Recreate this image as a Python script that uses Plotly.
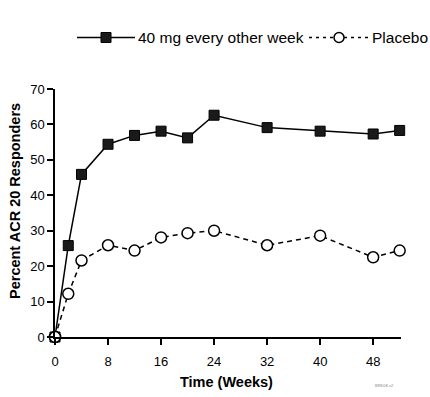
import plotly.graph_objects as go

weeks = [0, 2, 4, 8, 12, 16, 20, 24, 32, 40, 48, 52]
adalimumab = [0, 25.8, 45.9, 54.4, 56.9, 58.1, 56.2, 62.6, 59.1, 58.1, 57.3, 58.3]
placebo = [0, 12.2, 21.6, 25.9, 24.4, 28.1, 29.3, 30.0, 25.9, 28.6, 22.5, 24.4]
x_ticks = [0, 8, 16, 24, 32, 40, 48]
y_ticks = [0, 10, 20, 30, 40, 50, 60, 70]
series_names = ["40 mg every other week", "Placebo"]

W, H = 430, 397
L, R, T, B = 55, 29, 89, 60
PW, PH = W - L - R, H - T - B

def px(x):
    return (x - L) / PW

def py(y):
    return (H - B - y) / PH

FONT = "Liberation Sans, Arial, sans-serif"

fig = go.Figure()
fig.add_trace(go.Scatter(
    x=weeks, y=placebo, mode="lines+markers", name=series_names[1],
    line=dict(color="black", width=1.5, dash="5px,4px"),
    marker=dict(symbol="circle", size=11, color="white",
                line=dict(color="black", width=1.5)),
    cliponaxis=False, showlegend=False,
))
fig.add_trace(go.Scatter(
    x=weeks, y=adalimumab, mode="lines+markers", name=series_names[0],
    line=dict(color="black", width=1.5),
    marker=dict(symbol="square", size=10, color="#1a1a1a",
                line=dict(color="black", width=1)),
    cliponaxis=False, showlegend=False,
))
# keep the placebo circle at the origin on top
fig.add_trace(go.Scatter(
    x=weeks[:1], y=placebo[:1], mode="markers",
    marker=dict(symbol="circle", size=11, color="white",
                line=dict(color="black", width=1.5)),
    cliponaxis=False, showlegend=False, hoverinfo="skip",
))

shapes = []
ly = 37.5
# legend item 1
shapes.append(dict(type="line", xref="paper", yref="paper",
                   x0=px(77), x1=px(135), y0=py(ly), y1=py(ly),
                   line=dict(color="black", width=1.5)))
shapes.append(dict(type="rect", xref="paper", yref="paper",
                   x0=px(101), x1=px(111), y0=py(ly - 5), y1=py(ly + 5),
                   fillcolor="#1a1a1a", line=dict(color="black", width=1)))
# legend item 2
shapes.append(dict(type="line", xref="paper", yref="paper",
                   x0=px(309), x1=px(368), y0=py(ly), y1=py(ly),
                   line=dict(color="black", width=1.5, dash="3px,4px")))
shapes.append(dict(type="circle", xref="paper", yref="paper",
                   x0=px(334), x1=px(344), y0=py(ly - 5), y1=py(ly + 5),
                   fillcolor="white", line=dict(color="black", width=1.5)))

annotations = [
    dict(text=series_names[0], xref="paper", yref="paper", x=px(136), y=py(ly),
         xanchor="left", yanchor="middle", showarrow=False,
         font=dict(family=FONT, size=15.5, color="black")),
    dict(text=series_names[1], xref="paper", yref="paper", x=px(370), y=py(ly),
         xanchor="left", yanchor="middle", showarrow=False,
         font=dict(family=FONT, size=15.5, color="black")),
    dict(text="<b>Time (Weeks)</b>", xref="paper", yref="paper", x=px(226), y=py(382),
         xanchor="center", yanchor="middle", showarrow=False,
         font=dict(family=FONT, size=14.5, color="black")),
    dict(text="<b>Percent ACR 20 Responders</b>", xref="paper", yref="paper",
         x=px(15), y=py(201), textangle=-90,
         xanchor="center", yanchor="middle", showarrow=False,
         font=dict(family=FONT, size=14.5, color="black")),
    dict(text="BRK08-v2", xref="paper", yref="paper", x=px(384), y=py(385),
         xanchor="center", yanchor="middle", showarrow=False,
         font=dict(family=FONT, size=4, color="#888888")),
]

fig.update_layout(
    width=W, height=H,
    margin=dict(l=L, r=R, t=T, b=B, pad=0),
    plot_bgcolor="white", paper_bgcolor="white",
    showlegend=False,
    shapes=shapes, annotations=annotations,
    font=dict(family=FONT, size=13, color="black"),
    xaxis=dict(range=[0, 52.2], tickvals=x_ticks, ticktext=[str(v) for v in x_ticks],
               showgrid=False, zeroline=False, showline=True, linecolor="black",
               linewidth=1.5, ticks="outside", ticklen=6, tickwidth=1.5,
               tickcolor="black", ticklabelstandoff=6,
               tickfont=dict(family=FONT, size=13, color="black")),
    yaxis=dict(range=[0, 70], tickvals=y_ticks, ticktext=[str(v) for v in y_ticks],
               showgrid=False, zeroline=False, showline=True, linecolor="black",
               linewidth=1.5, ticks="outside", ticklen=6, tickwidth=1.5,
               tickcolor="black",
               tickfont=dict(family=FONT, size=13, color="black")),
)

fig.write_html(
    "out.html",
    config={"displayModeBar": False},
    post_script="document.body.style.margin='0';document.body.style.overflow='hidden';",
)
